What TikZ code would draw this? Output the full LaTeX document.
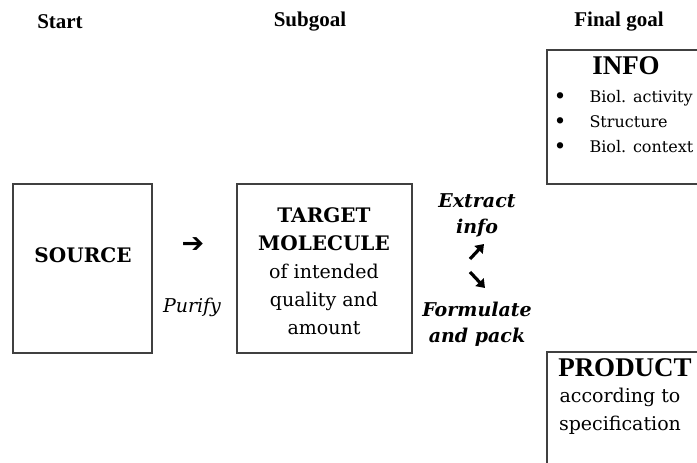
\documentclass[tikz,border=0pt]{standalone}
\usepackage{fontspec}
\setmainfont{DejaVu Serif}
\newfontfamily\headfont{Liberation Serif}
\newfontfamily\symfont{DejaVu Sans}
\usetikzlibrary{positioning}
\usetikzlibrary{arrows.meta}

\begin{document}
\begin{tikzpicture}[x=1pt,y=-1pt,
    heading/.style={font=\headfont\bfseries\fontsize{21}{24}\selectfont},
    titletext/.style={font=\headfont\bfseries\fontsize{27}{30}\selectfont},
    stagebox/.style={draw=black!75,line width=1.2pt},
    boxtext/.style={align=center,font=\fontsize{19}{28}\selectfont},
    listtext/.style={anchor=base west,font=\fontsize{16}{18}\selectfont},
    bullet/.style={anchor=base,font=\bfseries\fontsize{18}{18}\selectfont},
    steplabel/.style={align=center,font=\bfseries\itshape\fontsize{19}{26}\selectfont},
    arrowsym/.style={font=\symfont\bfseries\fontsize{27}{27}\selectfont},
    boldarrow/.style={line width=3.2pt,-{Triangle[length=8pt,width=11pt]}}]
    \useasboundingbox (0,0) rectangle (697,463);
    \clip (0,0) rectangle (697,463);
    % headings
    \node[heading] (start) at (60,22) {Start};
    \node[heading] (subgoal) at (310,22) {Subgoal};
    \node[heading] (final) at (619,22) {Final goal};
    % start and subgoal
    \node[stagebox,minimum width=139pt,minimum height=169pt] (source) at (82.5,268.5) {};
    \node[font=\bfseries\fontsize{20}{28}\selectfont] (sourcetext) at (83,255) {SOURCE};
    \node[stagebox,minimum width=175pt,minimum height=169pt] (target) at (324.5,268.5) {};
    \node[boxtext] (targettext) at (324,271) {{\bfseries\fontsize{20}{28}\selectfont TARGET}\\{\bfseries\fontsize{20}{28}\selectfont MOLECULE}\\of intended\\quality and\\amount};
    \node[arrowsym] (purifyarrow) at (193,245) {➔};
    \node[font=\itshape\fontsize{19}{22}\selectfont] (purify) at (192,307) {Purify};
    % steps to the final goals
    \node[steplabel] (extract) at (477,215) {Extract\\info};
    \coordinate (upfrom) at (470,259);
    \coordinate (upto) at (484,244);
    \draw[boldarrow] (upfrom) -- (upto);
    \coordinate (downfrom) at (470,272);
    \coordinate (downto) at (485,288);
    \draw[boldarrow] (downfrom) -- (downto);
    \node[steplabel] (formulate) at (477,324) {Formulate\\and pack};
    % final goals
    \node[stagebox,minimum width=200pt,minimum height=134pt] (info) at (647,117) {};
    \node[titletext] (infotitle) at (626,66) {INFO};
    \node[bullet] (bull1) at (560,102) {•};
    \node[listtext] (item1) at (586,102) {Biol. activity};
    \node[bullet] (bull2) at (560,127) {•};
    \node[listtext] (item2) at (586,127) {Structure};
    \node[bullet] (bull3) at (560,152) {•};
    \node[listtext] (item3) at (586,152) {Biol. context};
    \node[stagebox,minimum width=200pt,minimum height=150pt] (product) at (647,427) {};
    \node[titletext] (producttitle) at (625,368) {PRODUCT};
    \node[boxtext] (producttext) at (620,411) {according to\\specification};
\end{tikzpicture}
\end{document}
